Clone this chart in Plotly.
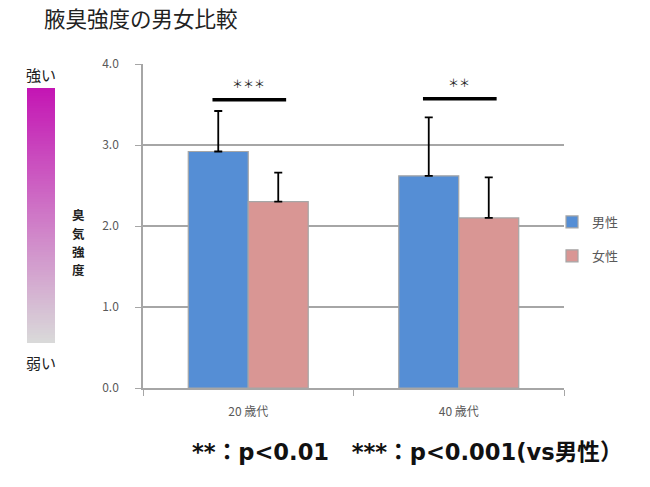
import plotly.graph_objects as go

# ---- data ----
categories = ["20 歳代", "40 歳代"]
male = [2.92, 2.62]
female = [2.30, 2.10]
male_err = [0.50, 0.72]
female_err = [0.36, 0.50]
sig_labels = ["***", "**"]
sig_y = [3.56, 3.57]
y_ticks = [0.0, 1.0, 2.0, 3.0, 4.0]
scale_levels = list(range(101))
axis_title_chars = ["臭", "気", "強", "度"]

W, H = 650, 487
def px(x):
    return x / W
def py(y):
    return 1 - y / H

FONT = "Noto Sans CJK JP"
GRID = "#A6A6A6"

fig = go.Figure()

fig.add_trace(go.Bar(
    x=categories, y=male, name="男性", legendgroup="m",
    marker=dict(color="#558ED5", line=dict(color="#A6A6A6", width=1.2)),
    error_y=dict(type="data", symmetric=False, array=male_err,
                 arrayminus=[0] * len(male_err), color="black", thickness=1.8, width=4),
))
fig.add_trace(go.Bar(
    x=categories, y=female, name="女性", legendgroup="f",
    marker=dict(color="#D99694", line=dict(color="#A6A6A6", width=1.2)),
    error_y=dict(type="data", symmetric=False, array=female_err,
                 arrayminus=[0] * len(female_err), color="black", thickness=1.8, width=4),
))

# gradient scale on the left
fig.add_trace(go.Heatmap(
    z=[[v] for v in scale_levels], x=[0], y=scale_levels,
    colorscale=[[0, "#D9D9D9"], [1, "#C416B4"]],
    showscale=False, xaxis="x2", yaxis="y2", hoverinfo="skip", showlegend=False,
))

# significance bars and stars
for i, (lab, yv) in enumerate(zip(sig_labels, sig_y)):
    fig.add_shape(type="line", xref="x", yref="y",
                  x0=i - 0.17, x1=i + 0.18, y0=yv, y1=yv,
                  line=dict(color="black", width=3.5))
    fig.add_annotation(x=i, y=yv + 0.21, xref="x", yref="y",
                       text=lab.replace("*", "＊"),
                       showarrow=False, xanchor="center", yanchor="middle",
                       font=dict(family=FONT, size=11, color="#222"))

fig.update_layout(
    width=W, height=H,
    margin=dict(l=0, r=0, t=0, b=0),
    paper_bgcolor="white", plot_bgcolor="white",
    barmode="group", bargap=0.43, bargroupgap=0,
    font=dict(family=FONT, color="#595959", size=12),
    showlegend=True,
    legend=dict(x=px(552), y=py(207), xanchor="left", yanchor="top",
                font=dict(size=13, color="#595959"), tracegroupgap=14,
                bgcolor="rgba(0,0,0,0)"),
    xaxis=dict(domain=[px(143), px(564)], showgrid=False, automargin=False,
               showline=True, linecolor=GRID, linewidth=1.5,
               ticks="outside", tickson="boundaries", ticklen=6, tickcolor=GRID,
               ticklabelstandoff=12,
               tickfont=dict(size=12, color="#595959")),
    yaxis=dict(domain=[py(388), py(64)], range=[0, 4], tickvals=y_ticks,
               tickformat=".1f", showgrid=True, gridcolor=GRID, gridwidth=1.5,
               showline=True, linecolor=GRID, linewidth=1.5, automargin=False,
               ticks="outside", ticklen=6, tickcolor=GRID, ticklabelstandoff=14,
               zeroline=False, tickfont=dict(size=12, color="#595959")),
    xaxis2=dict(domain=[px(27), px(55)], anchor="y2", visible=False),
    yaxis2=dict(domain=[py(343), py(88)], anchor="x2", visible=False,
                range=[-0.5, 100.5]),
)

def note(x, y, text, size, color="#222", family=FONT):
    fig.add_annotation(x=px(x), y=py(y), xref="paper", yref="paper",
                       xanchor="center", yanchor="middle", text=text,
                       showarrow=False, font=dict(family=family, size=size, color=color))

# title
fig.add_annotation(x=px(42), y=py(18), xref="paper", yref="paper", xanchor="left",
                   yanchor="middle", text="腋臭強度の男女比較", showarrow=False,
                   font=dict(family=FONT, size=21.5, color="#222"))
# scale labels
note(41, 74, "強い", 15)
note(41, 362, "弱い", 15)
# vertical axis title (stacked characters)
for k, ch in enumerate(axis_title_chars):
    note(78, 215 + 18.2 * k, f"<b>{ch}</b>", 12.5)
# footnote
note(407, 452, "<b>**：p<0.01　***：p<0.001(vs男性）</b>", 22.6, "#111",
     "DejaVu Sans, Noto Sans CJK JP")

fig.write_html("out.html", config={"displayModeBar": False},
               post_script="document.body.style.margin='0';")
